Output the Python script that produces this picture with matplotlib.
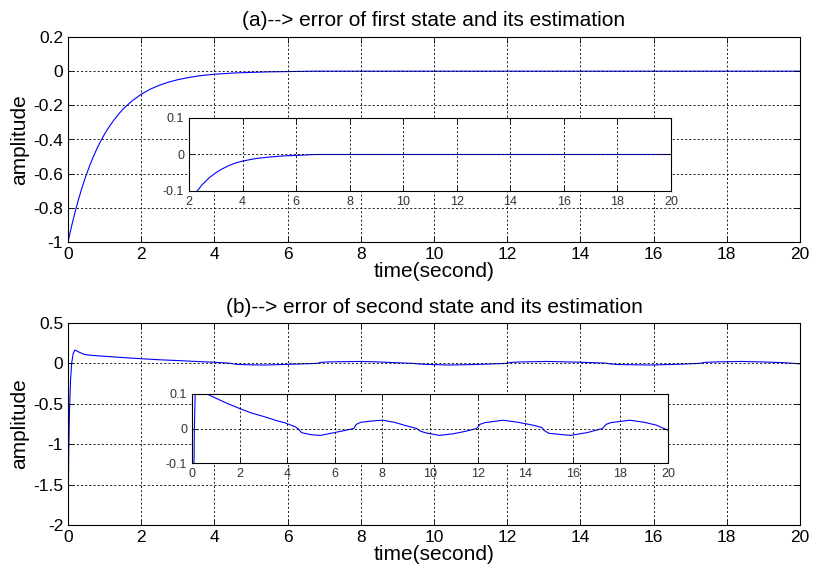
import matplotlib
matplotlib.use("Agg")
import matplotlib.pyplot as plt
import numpy as np

plt.rcParams['font.family'] = ['Liberation Sans', 'DejaVu Sans']

# ---- data ----
t1 = [0.0, 0.1, 0.2, 0.3, 0.4, 0.5, 0.6, 0.7, 0.8, 0.9, 1.0, 1.1, 1.25, 1.4,
      1.5, 1.75, 2.0, 2.25, 2.5, 2.75, 3.0, 3.25, 3.5, 3.75, 4.0, 4.5, 5.0,
      5.5, 6.0, 6.7, 10.0, 15.0, 20.0]
e1 = [-1.0, -0.905, -0.819, -0.741, -0.670, -0.607, -0.549, -0.497, -0.449,
      -0.407, -0.368, -0.333, -0.287, -0.247, -0.223, -0.174, -0.135, -0.105,
      -0.082, -0.064, -0.05, -0.039, -0.03, -0.023, -0.018, -0.011, -0.007,
      -0.004, -0.0025, 0.0, 0.0, 0.0, 0.0]

t2 = [0.0, 0.02, 0.04, 0.07, 0.1, 0.14, 0.19, 0.3, 0.45, 0.63, 1.0, 1.5, 2.0,
      2.5, 3.0, 3.5, 3.92, 4.34, 4.45, 4.6, 5.0, 5.4, 5.94, 6.4, 6.8, 6.9,
      7.1, 7.6, 8.0, 8.5, 9.0, 9.44, 9.6, 9.85, 10.4, 11.0, 11.5, 11.96, 12.1,
      12.3, 13.07, 13.7, 14.3, 14.7, 14.8, 15.0, 15.9, 16.6, 17.25, 17.4,
      17.6, 18.4, 19.0, 19.5, 20.0]
e2 = [-2.0, -1.1, -0.6, -0.2, 0.0, 0.12, 0.165, 0.14, 0.11, 0.1, 0.088, 0.072,
      0.058, 0.045, 0.035, 0.024, 0.016, 0.005, 0.0, -0.012, -0.018, -0.02,
      -0.0125, -0.006, 0.0, 0.012, 0.018, 0.022, 0.024, 0.018, 0.008, 0.0,
      -0.008, -0.013, -0.02, -0.015, -0.008, 0.0, 0.012, 0.017, 0.024, 0.018,
      0.01, 0.003, -0.006, -0.014, -0.02, -0.012, 0.0, 0.012, 0.017, 0.024,
      0.018, 0.01, -0.005]

title_a = "(a)--> error of first state and its estimation"
title_b = "(b)--> error of second state and its estimation"
xlabel = "time(second)"
ylabel = "amplitude"

xticks = np.arange(0, 21, 2)
yticks_a = [-1, -0.8, -0.6, -0.4, -0.2, 0, 0.2]
ytick_labels_a = ["-1", "-0.8", "-0.6", "-0.4", "-0.2", "0", "0.2"]
yticks_b = [-2, -1.5, -1, -0.5, 0, 0.5]
ytick_labels_b = ["-2", "-1.5", "-1", "-0.5", "0", "0.5"]
inset_yticks = [-0.1, 0, 0.1]
inset_ylabels = ["-0.1", "0", "0.1"]

W, H = 813, 573
fig = plt.figure(figsize=(W / 100, H / 100), dpi=100)

def frac(x0, y0, x1, y1):
    return [x0 / W, 1 - y1 / H, (x1 - x0) / W, (y1 - y0) / H]

grid_kw = dict(color='black', linestyle=(0, (2.5, 2.5)), linewidth=0.6)

def style(ax, fs):
    ax.grid(True, **grid_kw)
    ax.tick_params(direction='in', top=True, right=True, length=4,
                   labelsize=fs, width=0.6)
    for s in ax.spines.values():
        s.set_linewidth(0.8)
    ax.set_axisbelow(False)

LBL = 15
TCK = 12.5

# top main
ax1 = fig.add_axes(frac(68, 37, 800, 242))
ax1.plot(t1, e1, color='blue', linewidth=0.8)
ax1.set_xlim(0, 20)
ax1.set_ylim(-1, 0.2)
ax1.set_xticks(xticks)
ax1.set_yticks(yticks_a)
ax1.set_yticklabels(ytick_labels_a)
style(ax1, TCK)
ax1.set_title(title_a, fontsize=LBL, pad=8)
ax1.set_xlabel(xlabel, fontsize=LBL, labelpad=0)
ax1.set_ylabel(ylabel, fontsize=LBL, labelpad=3)

# top inset
ia = fig.add_axes(frac(189, 118, 671, 191))
ia.plot(t1, e1, color='blue', linewidth=0.8)
ia.set_xlim(2, 20)
ia.set_ylim(-0.1, 0.1)
ia.set_xticks(np.arange(2, 21, 2))
ia.set_yticks(inset_yticks)
ia.set_yticklabels(inset_ylabels)
style(ia, 9)
ia.tick_params(labelcolor='#333333')

# bottom main
ax2 = fig.add_axes(frac(68, 323, 800, 525))
ax2.plot(t2, e2, color='blue', linewidth=0.8)
ax2.set_xlim(0, 20)
ax2.set_ylim(-2, 0.5)
ax2.set_xticks(xticks)
ax2.set_yticks(yticks_b)
ax2.set_yticklabels(ytick_labels_b)
style(ax2, TCK)
ax2.set_title(title_b, fontsize=LBL, pad=7)
ax2.set_xlabel(xlabel, fontsize=LBL, labelpad=0)
ax2.set_ylabel(ylabel, fontsize=LBL, labelpad=3)

# bottom inset
ib = fig.add_axes(frac(192, 394, 668, 463))
ib.plot(t2, e2, color='blue', linewidth=0.8)
ib.set_xlim(0, 20)
ib.set_ylim(-0.1, 0.1)
ib.set_xticks(xticks)
ib.set_yticks(inset_yticks)
ib.set_yticklabels(inset_ylabels)
style(ib, 9)
ib.tick_params(labelcolor='#333333')

fig.savefig("out.png", dpi=100, facecolor='white')
